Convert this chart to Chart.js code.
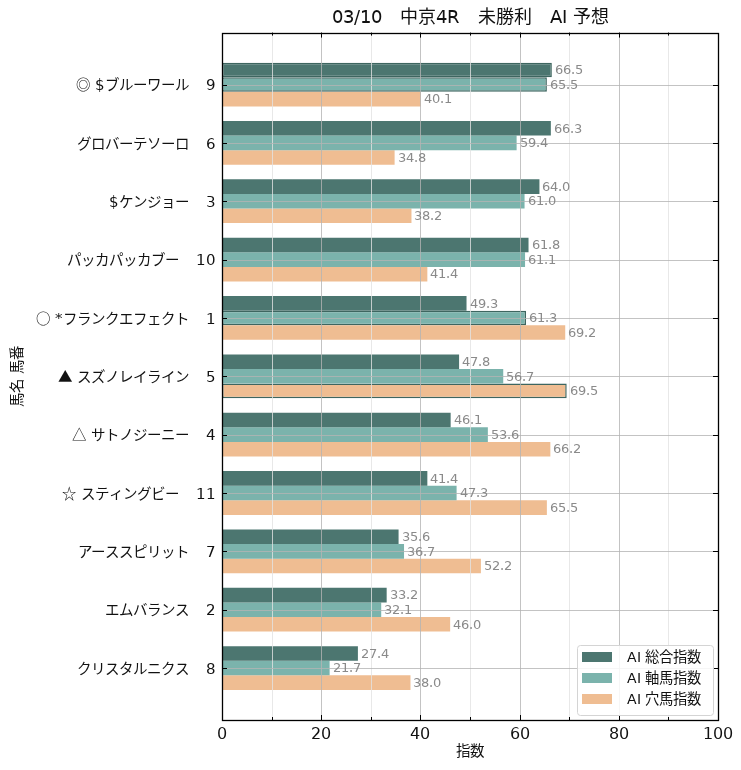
<!DOCTYPE html>
<html lang="ja">
<head>
<meta charset="UTF-8">
<title>03/10 中京4R 未勝利 AI 予想</title>
<script src="https://cdn.jsdelivr.net/npm/chart.js"></script>
<style>
  /* latin glyphs from DejaVu, symbols and kana from Noto CJK */
  @font-face {
    font-family: 'MixJP';
    src: local('DejaVu Sans'), local('DejaVuSans');
    unicode-range: U+0020-007E, U+00A0-00FF;
  }
  @font-face {
    font-family: 'MixJP';
    src: local('Noto Sans CJK JP'), local('Noto Sans CJK JP Regular'), local('NotoSansCJKjp-Regular');
    unicode-range: U+2000-FFFF;
  }
  body { margin: 0; background: #fff; }
  #wrap { width: 741px; height: 770px; }
</style>
</head>
<body>
<div id="wrap"><canvas id="chart" width="741" height="770"></canvas></div>
<script>
// data
const horseNames = ['◎ $ブルーワール', 'グロバーテソーロ', '$ケンジョー', 'パッカパッカブー', '○ *フランクエフェクト',
  '▲ スズノレイライン', '△ サトノジーニー', '☆ スティングビー', 'アーススピリット', 'エムバランス', 'クリスタルニクス'];
const horseNumbers = [9, 6, 3, 10, 1, 5, 4, 11, 7, 2, 8];
const sogoIndex = [66.5, 66.3, 64.0, 61.8, 49.3, 47.8, 46.1, 41.4, 35.6, 33.2, 27.4];
const jikuIndex = [65.5, 59.4, 61.0, 61.1, 61.3, 56.7, 53.6, 47.3, 36.7, 32.1, 21.7];
const anaIndex = [40.1, 34.8, 38.2, 41.4, 69.2, 69.5, 66.2, 65.5, 52.2, 46.0, 38.0];
const seriesNames = ['AI 総合指数', 'AI 軸馬指数', 'AI 穴馬指数'];
const xTicks = [0, 20, 40, 60, 80, 100];

const FONT = "MixJP, 'DejaVu Sans', 'Noto Sans CJK JP', sans-serif";
const colors = ['#4c7670', '#7bb3ac', '#efbd92'];
const edge = '#3e6660';

Chart.defaults.font.family = FONT;
Chart.defaults.color = '#111';

function toPoints(arr) {
  return arr.map((v, i) => ({ x: v, y: i }));
}

// grid is drawn on top of the bars, like in the picture
const frameAndGrid = {
  id: 'frameAndGrid',
  afterDatasetsDraw(chart) {
    const { ctx, chartArea: a, scales: { x, y } } = chart;
    ctx.save();
    ctx.lineWidth = 0.8;
    for (let v = 10; v < 100; v += 10) {
      const px = Math.round(x.getPixelForValue(v)) + 0.5;
      ctx.strokeStyle = v % 20 === 0 ? '#b4b4b4' : '#e2e2e2';
      ctx.beginPath();
      ctx.moveTo(px, a.top);
      ctx.lineTo(px, a.bottom);
      ctx.stroke();
    }
    ctx.strokeStyle = '#b4b4b4';
    horseNumbers.forEach((n, i) => {
      const py = Math.round(y.getPixelForValue(i)) + 0.5;
      ctx.beginPath();
      ctx.moveTo(a.left, py);
      ctx.lineTo(a.right, py);
      ctx.stroke();
    });

    // inward ticks
    ctx.strokeStyle = '#000';
    ctx.lineWidth = 1;
    for (let v = 10; v < 100; v += 10) {
      const px = Math.round(x.getPixelForValue(v)) + 0.5;
      const len = v % 20 === 0 ? 5 : 3;
      ctx.beginPath();
      ctx.moveTo(px, a.bottom); ctx.lineTo(px, a.bottom - len);
      ctx.moveTo(px, a.top); ctx.lineTo(px, a.top + len);
      ctx.stroke();
    }
    horseNumbers.forEach((n, i) => {
      const py = Math.round(y.getPixelForValue(i)) + 0.5;
      ctx.beginPath();
      ctx.moveTo(a.left, py); ctx.lineTo(a.left + 5, py);
      ctx.moveTo(a.right, py); ctx.lineTo(a.right - 5, py);
      ctx.stroke();
    });

    // frame
    ctx.lineWidth = 1.3;
    ctx.strokeRect(Math.round(a.left) + 0.5, Math.round(a.top) + 0.5,
      Math.round(a.right - a.left), Math.round(a.bottom - a.top));
    ctx.restore();
  }
};

const valueLabels = {
  id: 'valueLabels',
  afterDatasetsDraw(chart) {
    const { ctx } = chart;
    ctx.save();
    ctx.font = '12.5px ' + FONT;
    ctx.fillStyle = '#8a8a8a';
    ctx.textAlign = 'left';
    ctx.textBaseline = 'middle';
    chart.data.datasets.forEach((ds, di) => {
      chart.getDatasetMeta(di).data.forEach((bar, i) => {
        ctx.fillText(ds.data[i].x.toFixed(1), bar.x + 3, bar.y + 1);
      });
    });
    ctx.restore();
  }
};

const boxLegend = {
  id: 'boxLegend',
  afterDraw(chart) {
    const { ctx, chartArea: a } = chart;
    const w = 136, h = 70;
    const bx = a.right - 5 - w, by = a.bottom - 5 - h;
    ctx.save();
    ctx.beginPath();
    ctx.roundRect(bx + 0.5, by + 0.5, w, h, 3);
    ctx.fillStyle = 'rgba(255,255,255,0.85)';
    ctx.fill();
    ctx.strokeStyle = '#d4d4d4';
    ctx.lineWidth = 1;
    ctx.stroke();
    ctx.font = '14.3px ' + FONT;
    ctx.textBaseline = 'middle';
    ctx.textAlign = 'left';
    chart.data.datasets.forEach((ds, i) => {
      const cy = by + 12 + i * 21;
      ctx.fillStyle = ds.backgroundColor;
      ctx.fillRect(bx + 5, cy - 5, 30, 10);
      ctx.fillStyle = '#111';
      ctx.fillText(ds.label, bx + 50, cy + 1);
    });
    ctx.restore();
  }
};

function drawChart() {
  new Chart(document.getElementById('chart'), {
    type: 'bar',
    data: {
      datasets: [
        { label: seriesNames[0], data: toPoints(sogoIndex), backgroundColor: colors[0],
          borderColor: edge, borderWidth: sogoIndex.map((v, i) => i === 0 ? 1.5 : 0) },
        { label: seriesNames[1], data: toPoints(jikuIndex), backgroundColor: colors[1],
          borderColor: edge, borderWidth: jikuIndex.map((v, i) => (i === 0 || i === 4) ? 1.5 : 0) },
        { label: seriesNames[2], data: toPoints(anaIndex), backgroundColor: colors[2],
          borderColor: edge, borderWidth: anaIndex.map((v, i) => i === 5 ? 1.5 : 0) }
      ]
    },
    options: {
      indexAxis: 'y',
      responsive: false,
      animation: false,
      categoryPercentage: 0.75,
      barPercentage: 1.0,
      borderSkipped: false,
      layout: { padding: { left: 0, right: 23, top: 0, bottom: 0 } },
      plugins: {
        legend: { display: false },
        tooltip: { enabled: false },
        title: {
          display: true,
          fullSize: false,
          text: '03/10　中京4R　未勝利　AI 予想',
          color: '#111',
          font: { size: 18, weight: 'normal' },
          padding: { top: 8, bottom: 3 }
        }
      },
      scales: {
        x: {
          type: 'linear',
          min: 0,
          max: 100,
          afterBuildTicks(scale) { scale.ticks = xTicks.map(v => ({ value: v })); },
          afterFit(scale) { scale.height = 50; },
          grid: { display: false, drawTicks: false },
          border: { display: false },
          ticks: { color: '#111', font: { size: 15.5 }, padding: 6 },
          title: { display: true, text: '指数', color: '#111', font: { size: 14.5 }, padding: { top: 0, bottom: 9 } }
        },
        y: {
          type: 'linear',
          reverse: true,
          offset: false,
          min: -0.89,
          max: 10.89,
          afterBuildTicks(scale) { scale.ticks = horseNames.map((n, i) => ({ value: i })); },
          afterFit(scale) { scale.width = 222; },
          grid: { display: false, drawTicks: false, offset: false },
          border: { display: false },
          ticks: {
            autoSkip: false,
            color: '#111',
            font: { size: 14.5 },
            padding: 6,
            labelOffset: 2,
            callback: (v) => horseNames[v] + '\u3000\u2009' + horseNumbers[v]
          },
          title: { display: true, text: '馬名 馬番', color: '#111', font: { size: 14.5 }, padding: { top: 10, bottom: 0 } }
        }
      }
    },
    plugins: [frameAndGrid, valueLabels, boxLegend]
  });
}

Promise.all([
  document.fonts.load('14px MixJP', 'A9$'),
  document.fonts.load('14px MixJP', '◎ア')
]).then(drawChart, drawChart);
</script>
</body>
</html>
